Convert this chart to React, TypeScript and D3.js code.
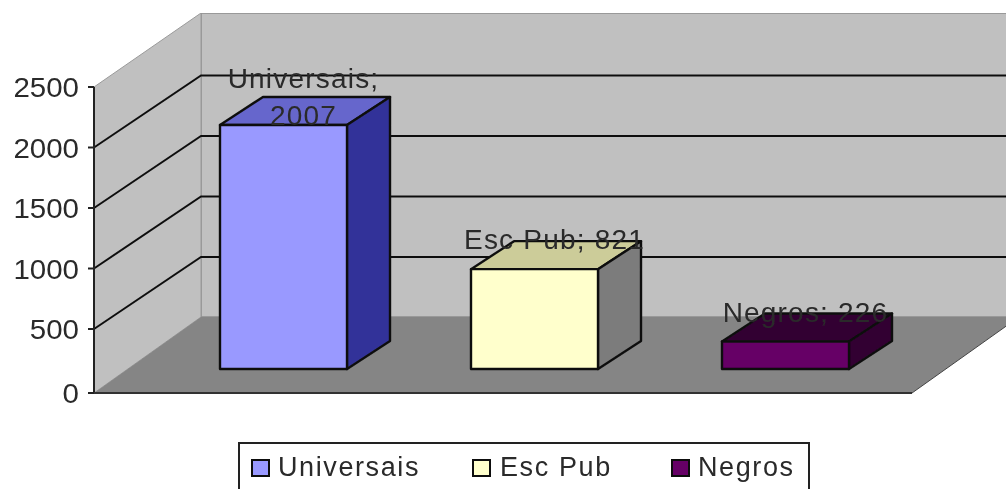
import React from "react";
import * as d3 from "d3";

const categories = ["Universais", "Esc Pub", "Negros"];
const values = [2007, 821, 226];
const yTicks = [0, 500, 1000, 1500, 2000, 2500];
const labelLines = [["Universais;", "2007"], ["Esc Pub; 821"], ["Negros; 226"]];
const frontColors = ["#9999FF", "#FFFFCC", "#660066"];
const topColors = ["#6666CC", "#CCCC99", "#330033"];
const sideColors = ["#333399", "#7C7C7C", "#330033"];

const W = 1006, H = 489;
const FONT = "'Liberation Sans', Arial, sans-serif";
const INK = "#2a2a2a";

export default function App() {
  const y = d3.scaleLinear().domain([0, 500, 2500]).range([393, 329, 87]);
  const barH = d3.scaleLinear().domain([0, 2500]).range([0, 304]);
  const x = d3.scaleBand<string>().domain(categories).range([158, 911]).paddingInner(0.494).paddingOuter(0.247);
  const floorDx = 107, floorDy = -76;
  const gridDy = -72, topDy = -74;
  const barDx = 43, barDy = -28;
  const baseY = 369;
  const left = 94, right = 912;
  const pts = (a: number[][]) => a.map((p) => p.join(",")).join(" ");
  const legendItems = [
    { sw: 252, tx: 278 },
    { sw: 473, tx: 500 },
    { sw: 672, tx: 698 },
  ];

  return (
    <svg width={W} height={H} viewBox={`0 0 ${W} ${H}`} style={{ position: "absolute", left: 0, top: 0, background: "#fff" }}>
      <defs>
        <filter id="soft" x="0" y="0" width="100%" height="100%">
          <feGaussianBlur stdDeviation="0.7" />
        </filter>
      </defs>
      <g filter="url(#soft)">
        {/* walls and floor */}
        <rect x={left + floorDx} y={y(2500) + topDy} width={W} height={y(0) + floorDy - y(2500) - topDy} fill="#C0C0C0" stroke="#8c8c8c" strokeWidth={1.5} />
        <polygon points={pts([[left, y(0)], [left, y(2500)], [left + floorDx, y(2500) + topDy], [left + floorDx, y(0) + floorDy]])} fill="#C0C0C0" stroke="#9a9a9a" strokeWidth={1} />
        <polygon points={pts([[left, y(0)], [right, y(0)], [right + floorDx, y(0) + floorDy], [left + floorDx, y(0) + floorDy]])} fill="#858585" />
        <line x1={right} y1={y(0)} x2={right + floorDx} y2={y(0) + floorDy} stroke="#444" strokeWidth={1} />

        {/* gridlines */}
        {yTicks.filter((t) => t > 0 && t < 2500).map((t) => (
          <path key={t} d={`M${left},${y(t)}L${left + floorDx},${y(t) + gridDy}H${W}`} fill="none" stroke="#111" strokeWidth={2} />
        ))}

        {/* axes */}
        <line x1={left} y1={y(2500)} x2={left} y2={y(0)} stroke="#222" strokeWidth={2} />
        <line x1={left - 6} y1={y(0)} x2={right} y2={y(0)} stroke="#333" strokeWidth={2} />
        {yTicks.map((t) => (
          <g key={t}>
            <line x1={left - 6} x2={left} y1={y(t)} y2={y(t)} stroke="#222" strokeWidth={2} />
            <text x={79} y={y(t) + 10} textAnchor="end" fontFamily={FONT} fontSize={28} fill={INK} textLength={String(t).length * 16.4} lengthAdjust="spacingAndGlyphs">{t}</text>
          </g>
        ))}

        {/* bars */}
        {categories.map((c, i) => {
          const x0 = x(c)!;
          const x1 = x0 + x.bandwidth();
          const h = barH(values[i]);
          const top = baseY - h;
          return (
            <g key={c} stroke="#111" strokeWidth={2.4} strokeLinejoin="round">
              <polygon points={pts([[x0, top], [x1, top], [x1 + barDx, top + barDy], [x0 + barDx, top + barDy]])} fill={topColors[i]} />
              <polygon points={pts([[x1, top], [x1 + barDx, top + barDy], [x1 + barDx, baseY + barDy], [x1, baseY]])} fill={sideColors[i]} />
              <rect x={x0} y={top} width={x.bandwidth()} height={h} fill={frontColors[i]} />
            </g>
          );
        })}

        {/* data labels */}
        {categories.map((c, i) => {
          const x0 = x(c)!;
          const top = baseY - barH(values[i]);
          const cx = x0 + x.bandwidth() / 2 + 20;
          const lines = labelLines[i];
          return lines.map((ln, k) => (
            <text key={ln} x={cx} y={top + (lines.length === 2 ? (k === 0 ? -37 : 0) : -20)} textAnchor="middle" fontFamily={FONT} fontSize={28} letterSpacing={1.2} fill={INK}>{ln}</text>
          ));
        })}

        {/* legend */}
        <rect x={239} y={443} width={570} height={60} fill="#fff" stroke="#222" strokeWidth={2} />
        {categories.map((c, i) => (
          <g key={c}>
            <rect x={legendItems[i].sw} y={460} width={17} height={16} fill={frontColors[i]} stroke="#111" strokeWidth={2} />
            <text x={legendItems[i].tx} y={476} fontFamily={FONT} fontSize={27} letterSpacing={1.6} fill={INK}>{c}</text>
          </g>
        ))}
      </g>
    </svg>
  );
}
